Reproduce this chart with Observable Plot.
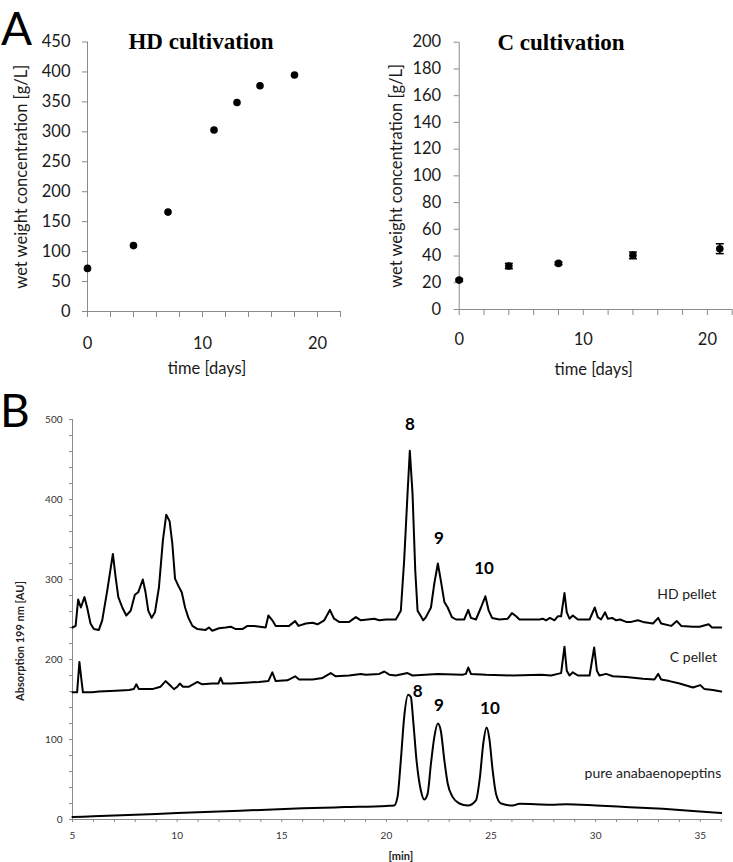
<!DOCTYPE html>
<html>
<head>
<meta charset="utf-8">
<script src="https://cdn.jsdelivr.net/npm/d3@7"></script>
<script src="https://cdn.jsdelivr.net/npm/@observablehq/plot@0.6"></script>
<style>
  html, body { margin: 0; padding: 0; background: #fff; }
  #fig { position: relative; width: 733px; height: 862px; overflow: hidden; font-family: Lato, sans-serif; color: #1a1a1a; }
  .panel { position: absolute; }
  .letter { position: absolute; font-family: Lato, sans-serif; font-size: 46px; line-height: 1; color: #000; }
  .title { position: absolute; font-family: "Liberation Serif", serif; font-weight: bold; font-size: 23px; line-height: 1; transform: translate(-50%, -50%); white-space: nowrap; color: #000; }
</style>
</head>
<body>
<div id="fig">
  <div class="panel" id="pHD" style="left:0;top:0;width:360px;height:380px"></div>
  <div class="panel" id="pC" style="left:366px;top:0;width:367px;height:380px"></div>
  <div class="panel" id="pB" style="left:0;top:380px;width:733px;height:482px"></div>
  <div class="letter" style="left:1px;top:5px">A</div>
  <div class="letter" style="left:0px;top:387px">B</div>
  <div class="title" style="left:201px;top:41px">HD cultivation</div>
  <div class="title" style="left:561px;top:42px">C cultivation</div>
</div>
<script>
// ---------- Panel A data ----------
const hdDays = [0, 4, 7, 11, 13, 15, 18];
const hdWet = [72, 110, 166, 303, 349, 377, 395];
const hdYTicks = [0, 50, 100, 150, 200, 250, 300, 350, 400, 450];

const cDays = [0, 4, 8, 14, 21];
const cWet = [22, 32.5, 34.5, 40.5, 45.5];
const cErr = [0.8, 2, 1, 2.5, 3.7];
const cYTicks = [0, 20, 40, 60, 80, 100, 120, 140, 160, 180, 200];

const dayTicks = [0, 2, 4, 6, 8, 10, 12, 14, 16, 18, 20, 22];
const dayLabels = [0, 10, 20];

// ---------- Panel B data (time [min], absorption [AU]) ----------
const hdPellet = [[5.00,240],[5.15,242],[5.27,275],[5.40,265],[5.57,278],[5.70,265],[5.86,245],[6.02,238],[6.26,237],[6.42,249],[6.66,286],[6.93,332],[7.06,303],[7.19,278],[7.38,265],[7.57,255],[7.78,261],[7.98,281],[8.14,284],[8.36,300],[8.49,284],[8.62,261],[8.78,252],[8.94,259],[9.13,290],[9.32,349],[9.48,381],[9.64,373],[9.77,345],[9.90,301],[10.06,292],[10.22,284],[10.38,265],[10.54,252],[10.73,242],[10.97,238],[11.36,237],[11.52,240],[11.68,236],[12.00,239],[12.32,240],[12.56,241],[12.80,238],[13.12,238],[13.36,242],[13.68,242],[14.23,240],[14.36,255],[14.55,249],[14.71,242],[15.11,242],[15.35,242],[15.64,248],[15.80,242],[16.15,245],[16.47,246],[16.71,244],[17.03,249],[17.30,262],[17.50,251],[17.74,247],[18.22,247],[18.54,253],[18.78,249],[19.42,251],[19.66,249],[19.98,250],[20.45,250],[20.69,261],[20.85,324],[21.01,407],[21.12,461],[21.25,407],[21.38,311],[21.49,261],[21.65,254],[21.76,249],[21.89,253],[22.13,265],[22.29,295],[22.46,320],[22.60,299],[22.77,272],[22.93,265],[23.13,253],[23.33,250],[23.72,250],[23.91,262],[24.04,252],[24.28,250],[24.52,265],[24.73,279],[24.89,261],[25.05,252],[25.40,250],[25.80,251],[26.00,258],[26.20,254],[26.36,250],[27.31,250],[27.47,251],[27.63,249],[27.82,252],[28.03,249],[28.19,254],[28.35,254],[28.51,283],[28.62,259],[28.75,251],[28.91,255],[29.15,250],[29.71,250],[29.96,265],[30.10,253],[30.26,250],[30.45,259],[30.58,251],[30.79,252],[30.98,249],[31.17,250],[31.46,247],[31.70,247],[32.02,249],[32.26,247],[32.74,245],[32.99,252],[33.13,245],[33.61,242],[33.88,248],[34.09,242],[34.65,241],[34.97,241],[35.40,244],[35.56,240],[35.84,240],[36.00,240]];

const cPellet = [[5.00,159],[5.22,159],[5.33,197],[5.43,174],[5.50,159],[5.94,159],[6.26,160],[7.06,161],[7.70,162],[7.93,163],[8.05,169],[8.17,163],[8.81,163],[9.21,166],[9.45,173],[9.61,169],[9.85,163],[10.01,166],[10.13,170],[10.28,166],[10.57,166],[10.97,172],[11.20,169],[11.68,170],[11.97,170],[12.08,177],[12.19,170],[12.56,170],[13.28,171],[13.91,172],[14.36,173],[14.55,184],[14.71,173],[15.27,174],[15.64,179],[15.83,175],[16.47,175],[16.95,177],[17.34,183],[17.58,179],[18.22,180],[18.78,182],[19.02,181],[19.66,182],[19.90,185],[20.14,181],[20.45,180],[21.01,183],[21.25,180],[22.45,182],[23.64,181],[23.80,182],[23.91,190],[24.04,182],[24.76,181],[26.04,180],[27.39,181],[27.87,180],[28.19,182],[28.35,183],[28.51,216],[28.62,186],[28.75,180],[28.91,184],[29.15,180],[29.71,180],[29.93,215],[30.06,186],[30.18,180],[30.50,182],[30.82,179],[31.46,178],[32.26,176],[32.81,175],[32.99,182],[33.13,175],[33.53,173],[34.01,170],[34.65,165],[35.00,168],[35.20,163],[35.60,162],[36.00,160]];

const pureAnabaenopeptins = [[5.0,3],[6.0,4],[8.0,6],[10.0,8],[12.0,10],[14.0,12],[16.0,14],[18.0,15.5],[20.0,17],[20.37,17.5],[20.53,28],[20.69,74],[20.85,128],[21.04,156],[21.17,153],[21.28,124],[21.44,74],[21.65,36],[21.81,25],[21.97,32],[22.13,70],[22.29,103],[22.46,120],[22.60,111],[22.77,74],[22.93,45],[23.17,28],[23.49,20],[23.89,17.5],[24.28,24],[24.47,53],[24.63,95],[24.79,115],[24.92,101],[25.08,61],[25.24,32],[25.48,20],[26.04,17.5],[26.36,19.6],[27.87,18.4],[28.59,19],[30.02,17.5],[31.62,15.4],[33.21,13.3],[34.81,10.4],[36.0,8]];

const peakLabels = [
  {t: 21.12, v: 494, label: "8"},
  {t: 22.51, v: 351, label: "9"},
  {t: 24.67, v: 314, label: "10"},
  {t: 21.50, v: 160, label: "8"},
  {t: 22.51, v: 142, label: "9"},
  {t: 24.95, v: 139, label: "10"}
];
const traceLabels = [
  {t: 35.77, v: 281, label: "HD pellet"},
  {t: 35.80, v: 203, label: "C pellet"},
  {t: 36.00, v: 58, label: "pure anabaenopeptins"}
];
const minYTicksB = [0, 100, 200, 300, 400, 500];
const minXTicksB = [5, 10, 15, 20, 25, 30, 35];

const AXIS = "#8a8a8a";
const INK = "#1a1a1a";
const baseStyle = {fontFamily: "Lato, sans-serif", background: "transparent", maxWidth: "none", overflow: "visible", color: INK};

// ---------- HD cultivation ----------
const hdData = hdDays.map((d, i) => ({t: d, w: hdWet[i]}));
const hdPlot = Plot.plot({
  width: 360, height: 380,
  marginLeft: 87, marginRight: 20, marginTop: 41.5, marginBottom: 69,
  style: {...baseStyle, fontSize: "16.5px"},
  x: {domain: [0, 22]},
  y: {domain: [0, 450]},
  marks: [
    Plot.axisY({ticks: hdYTicks, tickSize: 5, tickPadding: 12, stroke: AXIS, fill: INK, label: null}),
    Plot.axisX({ticks: dayTicks, tickFormat: d => dayLabels.includes(d) ? String(d) : "", tickSize: 6, tickPadding: 20, stroke: AXIS, fill: INK, label: null}),
    Plot.ruleX([0], {stroke: AXIS}),
    Plot.ruleY([0], {stroke: AXIS}),
    Plot.dot(hdData, {x: "t", y: "w", r: 3.8, fill: "#000"}),
    Plot.text(["time [days]"], {text: d => d, frameAnchor: "bottom", textAnchor: "middle", lineAnchor: "middle", dx: -7, dy: 57, fill: INK}),
    Plot.text(["wet weight concentration [g/L]"], {text: d => d, frameAnchor: "left", textAnchor: "middle", lineAnchor: "middle", rotate: -90, dx: -66, fill: INK})
  ]
});
document.getElementById("pHD").appendChild(hdPlot);

// ---------- C cultivation ----------
const cData = cDays.map((d, i) => ({t: d, w: cWet[i], e: cErr[i]}));
const capSymbol = {draw(ctx, size) { const w = Math.sqrt(size) / 2; ctx.moveTo(-w, 0); ctx.lineTo(w, 0); }};
const cPlot = Plot.plot({
  width: 367, height: 380,
  marginLeft: 92.7, marginRight: 1.3, marginTop: 41.7, marginBottom: 71,
  style: {...baseStyle, fontSize: "16.5px"},
  x: {domain: [0, 22]},
  y: {domain: [0, 200]},
  marks: [
    Plot.axisY({ticks: cYTicks, tickSize: 5, tickPadding: 13, stroke: AXIS, fill: INK, label: null}),
    Plot.axisX({ticks: dayTicks, tickFormat: d => dayLabels.includes(d) ? String(d) : "", tickSize: 6, tickPadding: 18, stroke: AXIS, fill: INK, label: null}),
    Plot.ruleX([0], {stroke: AXIS}),
    Plot.ruleY([0], {stroke: AXIS}),
    Plot.ruleX(cData, {x: "t", y1: d => d.w - d.e, y2: d => d.w + d.e, stroke: "#000", strokeWidth: 1.5}),
    Plot.dot(cData, {x: "t", y: d => d.w + d.e, symbol: capSymbol, r: 4.5, stroke: "#000", strokeWidth: 1.5, fill: "none"}),
    Plot.dot(cData, {x: "t", y: d => d.w - d.e, symbol: capSymbol, r: 4.5, stroke: "#000", strokeWidth: 1.5, fill: "none"}),
    Plot.dot(cData, {x: "t", y: "w", r: 3.8, fill: "#000"}),
    Plot.text(["time [days]"], {text: d => d, frameAnchor: "bottom", textAnchor: "middle", lineAnchor: "middle", dx: -2, dy: 60, fill: INK}),
    Plot.text(["wet weight concentration [g/L]"], {text: d => d, frameAnchor: "left", textAnchor: "middle", lineAnchor: "middle", rotate: -90, dx: -62.7, fill: INK})
  ]
});
document.getElementById("pC").appendChild(cPlot);

// ---------- Panel B chromatograms ----------
const bPlot = Plot.plot({
  width: 733, height: 482,
  marginLeft: 72, marginRight: 12.3, marginTop: 39, marginBottom: 43,
  style: {...baseStyle, fontSize: "10px"},
  x: {domain: [5, 36]},
  y: {domain: [0, 500]},
  marks: [
    Plot.axisY({ticks: d3.range(0, 501, 20), tickFormat: d => minYTicksB.includes(d) ? String(d) : "", tickSize: 3, tickPadding: 7, stroke: AXIS, fill: "#333", label: null}),
    Plot.axisX({ticks: d3.range(5, 37, 1), tickFormat: d => minXTicksB.includes(d) ? String(d) : "", tickSize: 3, tickPadding: 9, stroke: AXIS, fill: "#333", label: null}),
    Plot.ruleX([5], {stroke: AXIS}),
    Plot.ruleY([0], {stroke: AXIS}),
    Plot.line(hdPellet, {x: d => d[0], y: d => d[1], stroke: "#000", strokeWidth: 2}),
    Plot.line(cPellet, {x: d => d[0], y: d => d[1], stroke: "#000", strokeWidth: 2}),
    Plot.line(pureAnabaenopeptins, {x: d => d[0], y: d => d[1], stroke: "#000", strokeWidth: 2, curve: "monotone-x"}),
    Plot.text(peakLabels, {x: "t", y: "v", text: "label", fontWeight: "bold", fontSize: 17, fill: "#000"}),
    Plot.text(traceLabels, {x: "t", y: "v", text: "label", textAnchor: "end", fontSize: 14, fill: "#222"}),
    Plot.text(["[min]"], {text: d => d, frameAnchor: "bottom", textAnchor: "middle", lineAnchor: "middle", dx: 4, dy: 37, fontWeight: "bold", fontSize: 11, fill: "#222"}),
    Plot.text(["Absorption 199 nm [AU]"], {text: d => d, frameAnchor: "left", textAnchor: "middle", lineAnchor: "middle", rotate: -90, dx: -52, dy: 21.5, fontWeight: "bold", fontSize: 11, fill: "#222"})
  ]
});
document.getElementById("pB").appendChild(bPlot);
</script>
</body>
</html>
